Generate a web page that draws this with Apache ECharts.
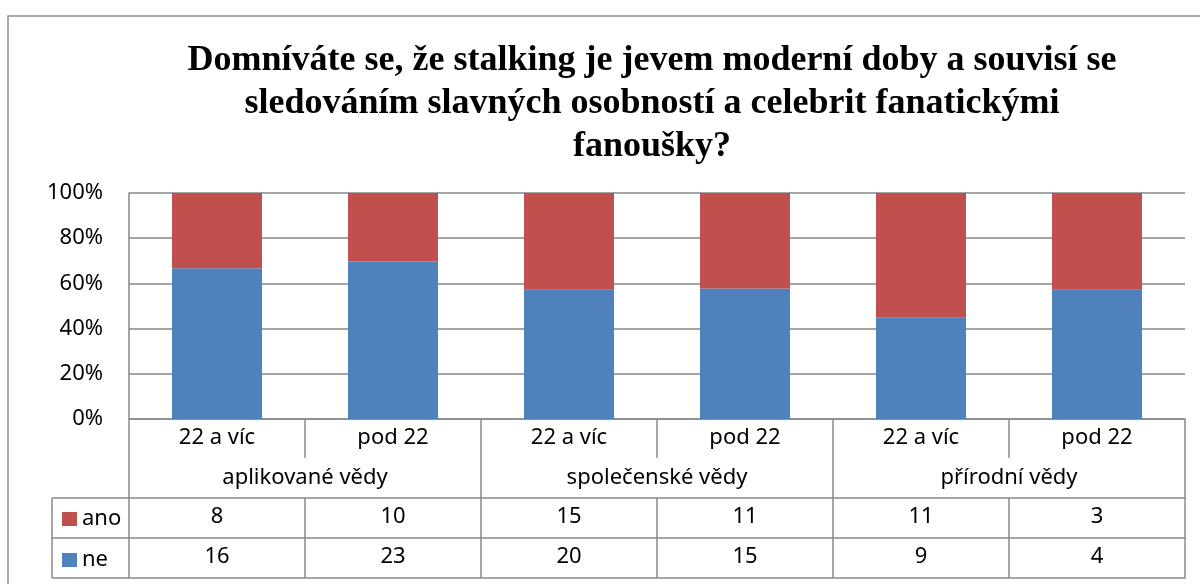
<!DOCTYPE html>
<html>
<head>
<meta charset="utf-8">
<script src="https://cdn.jsdelivr.net/npm/echarts@6/dist/echarts.min.js"></script>
<style>html,body{margin:0;padding:0;background:#fff;}#c{width:1200px;height:584px;}</style>
</head>
<body>
<div id="c"></div>
<script>
const titleText = 'Domníváte se, že stalking je jevem moderní doby a souvisí se\nsledováním slavných osobností a celebrit fanatickými\nfanoušky?';
const subCategories = ['22 a víc', 'pod 22', '22 a víc', 'pod 22', '22 a víc', 'pod 22'];
const groups = ['aplikované vědy', 'společenské vědy', 'přírodní vědy'];
const seriesNames = ['ano', 'ne'];
const anoValues = [8, 10, 15, 11, 11, 3];
const neValues = [16, 23, 20, 15, 9, 4];
const yTicks = [0, 20, 40, 60, 80, 100];

const totals = anoValues.map((v, i) => v + neValues[i]);
const anoPct = anoValues.map((v, i) => v / totals[i] * 100);
const nePct = neValues.map((v, i) => v / totals[i] * 100);

const GRID = '#868686';
const LINE = '#8a8a8a';
const FONT = 'Noto Sans';
const FS = 22;

const chart = echarts.init(document.getElementById('c'), null, {renderer: 'canvas'});
const labelBase = {color: '#000', fontFamily: FONT, fontSize: FS};

function tableAxis(data, offset, tickLen, margin, showLine) {
  return {
    type: 'category', gridIndex: 0, position: 'bottom', offset: offset,
    data: data, boundaryGap: true,
    axisLine: {show: showLine, lineStyle: {color: LINE, width: 1.5}},
    axisTick: {show: tickLen > 0, length: tickLen, lineStyle: {color: LINE, width: 1.5}},
    axisLabel: Object.assign({margin: margin, interval: 0, show: data.length > 0}, labelBase),
    splitLine: {show: false}
  };
}

chart.setOption({
  animation: false,
  backgroundColor: '#fff',
  title: {
    text: titleText,
    left: 652, top: 39, padding: 0, textAlign: 'center',
    textStyle: {fontFamily: 'Liberation Serif', fontWeight: 'bold', fontSize: 36, lineHeight: 43, color: '#000'}
  },
  legend: {
    data: seriesNames,
    orient: 'vertical', left: 62, top: 508, padding: 0,
    itemWidth: 15, itemHeight: 14, itemGap: 19, icon: 'rect',
    textStyle: Object.assign({lineHeight: 20}, labelBase),
    selectedMode: false
  },
  grid: {left: 129, top: 193, width: 1056, height: 226, containLabel: false},
  yAxis: {
    type: 'value', min: 0, max: 100, interval: 20,
    axisLine: {show: true, lineStyle: {color: GRID, width: 1.5}},
    axisTick: {show: false},
    axisLabel: Object.assign({formatter: '{value}%', margin: 26}, labelBase),
    splitLine: {show: true, lineStyle: {color: GRID, width: 1.5}}
  },
  xAxis: [
    tableAxis(subCategories, 0, 39, 8, true),
    tableAxis(groups, 0, 159, 48, false),
    tableAxis(anoValues.map(String), 79, 40, 8, true),
    tableAxis(neValues.map(String), 119, 40, 8, true),
    tableAxis(['', '', '', '', '', ''], 159, 0, 0, true)
  ],
  series: [
    {name: 'ne', type: 'bar', stack: 'total', xAxisIndex: 0, data: nePct, barWidth: 90, itemStyle: {color: '#4F81BD'}},
    {name: 'ano', type: 'bar', stack: 'total', xAxisIndex: 0, data: anoPct, barWidth: 90, itemStyle: {color: '#C0504D'}}
  ],
  graphic: [
    {type: 'rect', z: -10, silent: true, shape: {x: 8, y: 16, width: 1400, height: 900}, style: {fill: 'none', stroke: '#8e8e8e', lineWidth: 1.5}},
    {type: 'line', silent: true, shape: {x1: 52, y1: 498, x2: 129, y2: 498}, style: {stroke: LINE, lineWidth: 1.5}},
    {type: 'line', silent: true, shape: {x1: 52, y1: 538, x2: 129, y2: 538}, style: {stroke: LINE, lineWidth: 1.5}},
    {type: 'line', silent: true, shape: {x1: 52, y1: 578, x2: 129, y2: 578}, style: {stroke: LINE, lineWidth: 1.5}},
    {type: 'line', silent: true, shape: {x1: 52, y1: 498, x2: 52, y2: 578}, style: {stroke: LINE, lineWidth: 1.5}}
  ]
});
</script>
</body>
</html>
